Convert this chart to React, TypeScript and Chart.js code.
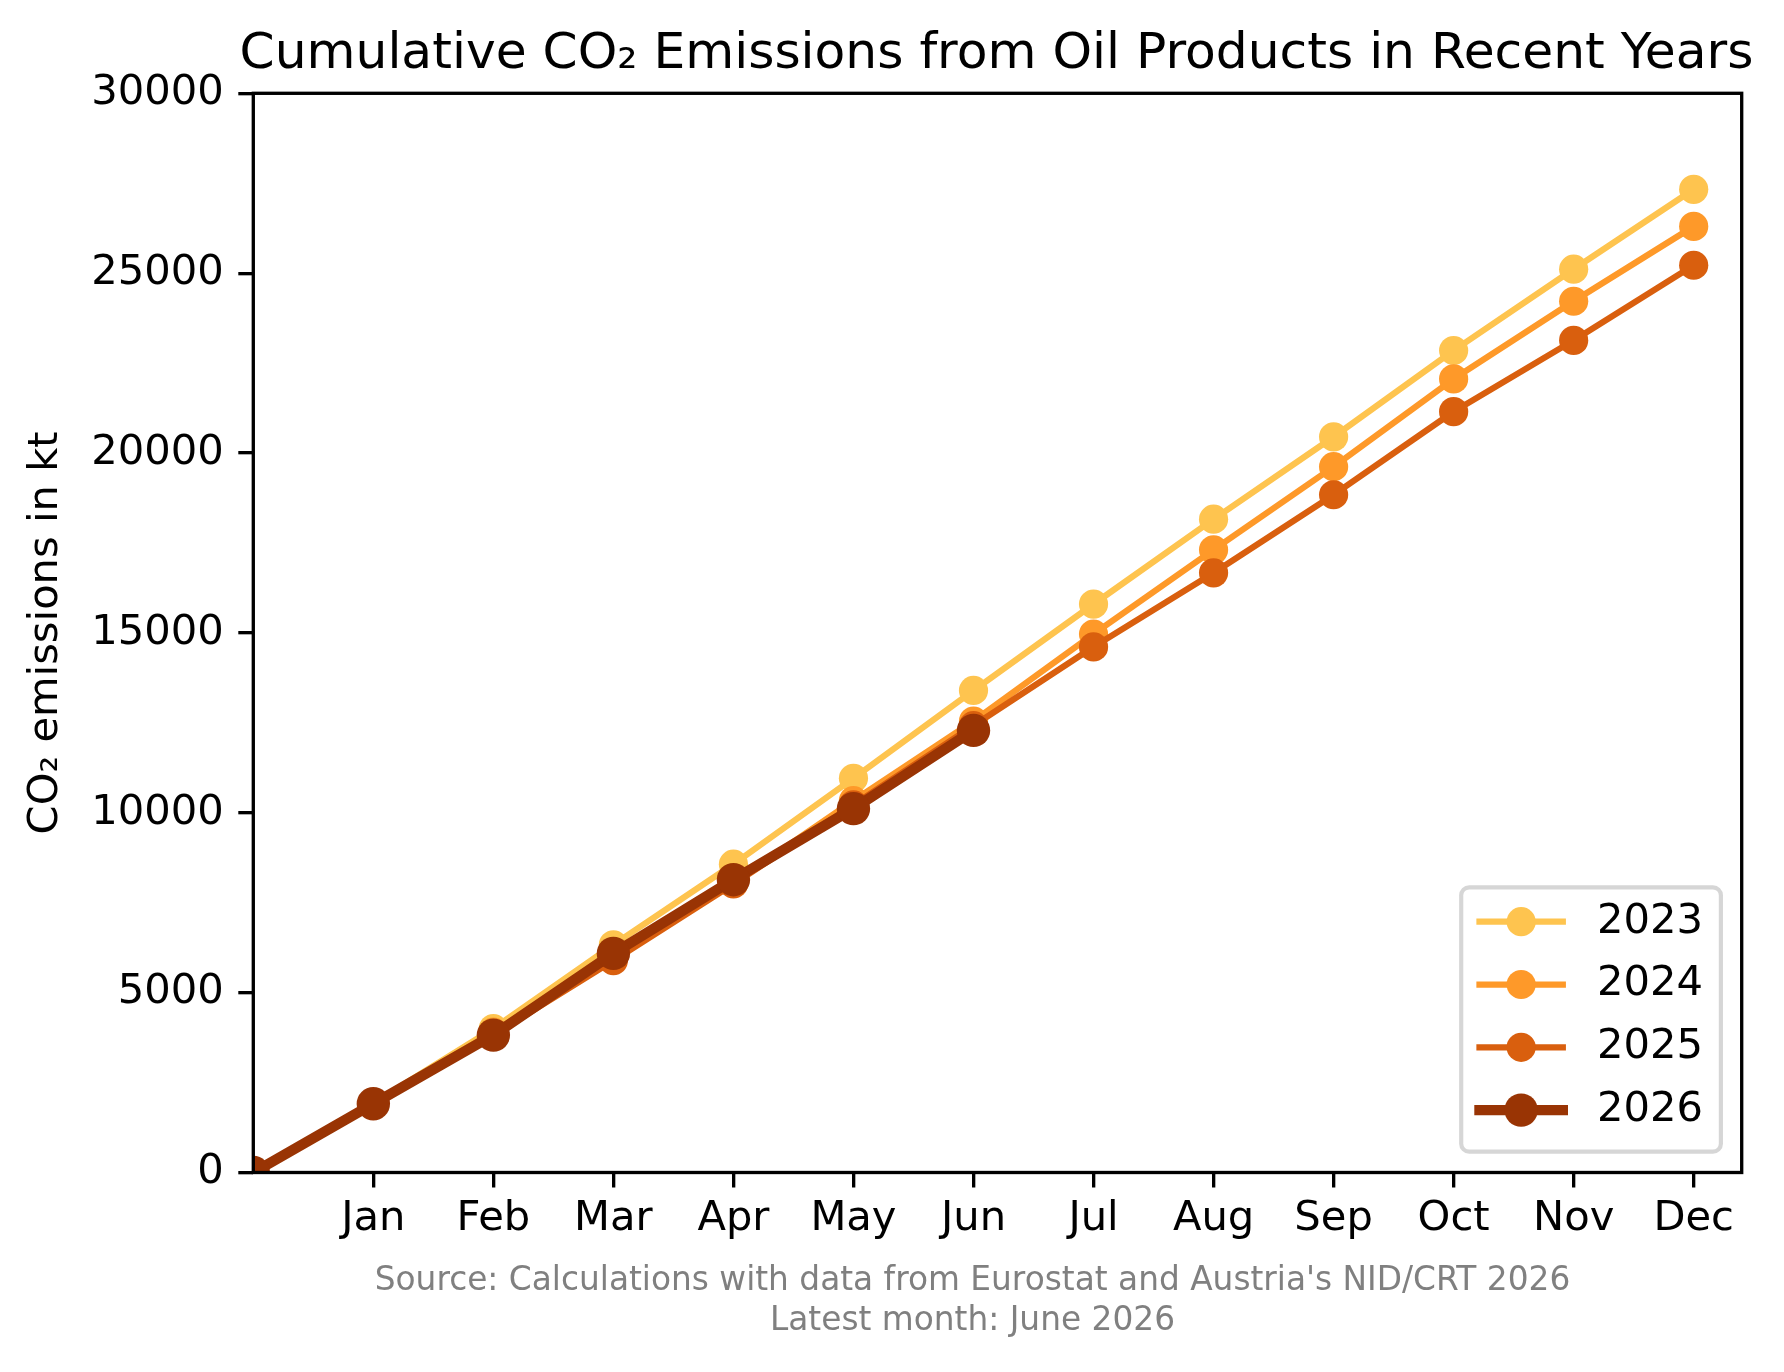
import React, { useEffect, useRef } from 'react';
import { Chart, registerables } from 'chart.js';

Chart.register(...registerables);

// ---- data ----
const MONTHS = ['Jan', 'Feb', 'Mar', 'Apr', 'May', 'Jun', 'Jul', 'Aug', 'Sep', 'Oct', 'Nov', 'Dec'];
// x position 0 = start of year, 1..12 = end of each month
const X_POSITIONS = [0, 1, 2, 3, 4, 5, 6, 7, 8, 9, 10, 11, 12];
const SERIES_NAMES = ['2023', '2024', '2025', '2026'];
const VALUES_2023 = [0, 1930, 4000, 6330, 8570, 10960, 13400, 15800, 18160, 20450, 22850, 25110, 27330];
const VALUES_2024 = [0, 1920, 3900, 5980, 8050, 10340, 12550, 14970, 17310, 19620, 22060, 24220, 26300];
const VALUES_2025 = [0, 1910, 3820, 5890, 8020, 10220, 12420, 14610, 16670, 18840, 21150, 23130, 25220];
const VALUES_2026 = [0, 1910, 3820, 6090, 8140, 10116, 12290];
const Y_TICKS = [0, 5000, 10000, 15000, 20000, 25000, 30000];

const TITLE = 'Cumulative CO\u2082 Emissions from Oil Products in Recent Years';
const Y_TITLE = 'CO\u2082 emissions in kt';
const FOOTNOTE = [
  "Source: Calculations with data from Eurostat and Austria's NID/CRT 2026",
  'Latest month: June 2026',
];

// ---- styles ----
const COLORS = ['#fec44f', '#fe9929', '#d95f0e', '#993404'];
const LINE_WIDTHS = [6.25, 6.25, 6.25, 10.4];
const POINT_RADII = [14.6, 14.6, 14.6, 16.7];
const FONT = '"DejaVu Sans", "Liberation Sans", sans-serif';
const W = 1784;
const H = 1372;
const SPINE = 3.33;

const ALL_VALUES = [VALUES_2023, VALUES_2024, VALUES_2025, VALUES_2026];

const decorPlugin = {
  id: 'decor',
  afterDatasetsDraw(chart: any) {
    const { ctx, chartArea: a } = chart;
    ctx.save();
    ctx.strokeStyle = '#000';
    ctx.lineWidth = SPINE;
    ctx.lineJoin = 'miter';
    ctx.strokeRect(a.left, a.top, a.right - a.left, a.bottom - a.top);
    ctx.restore();
  },
  afterDraw(chart: any) {
    const { ctx, chartArea: a } = chart;
    ctx.save();
    // title
    ctx.fillStyle = '#000';
    ctx.font = `50.3px ${FONT}`;
    ctx.textAlign = 'center';
    ctx.textBaseline = 'alphabetic';
    ctx.fillText(TITLE, (a.left + a.right) / 2 - 1, 68.3);

    // footnote
    ctx.fillStyle = '#808080';
    ctx.font = `32.8px ${FONT}`;
    ctx.fillText(FOOTNOTE[0], 972.5, 1290);
    ctx.fillText(FOOTNOTE[1], 972.5, 1330);

    // legend
    const bw = 259.7;
    const bh = 264.4;
    const bx = a.right - 20.8 - bw;
    const by = a.bottom - 20.8 - bh;
    const r = 8;
    ctx.beginPath();
    ctx.moveTo(bx + r, by);
    ctx.lineTo(bx + bw - r, by);
    ctx.arcTo(bx + bw, by, bx + bw, by + r, r);
    ctx.lineTo(bx + bw, by + bh - r);
    ctx.arcTo(bx + bw, by + bh, bx + bw - r, by + bh, r);
    ctx.lineTo(bx + r, by + bh);
    ctx.arcTo(bx, by + bh, bx, by + bh - r, r);
    ctx.lineTo(bx, by + r);
    ctx.arcTo(bx, by, bx + r, by, r);
    ctx.closePath();
    ctx.fillStyle = 'rgba(255,255,255,0.8)';
    ctx.fill();
    ctx.lineWidth = 4.17;
    ctx.strokeStyle = 'rgba(204,204,204,0.8)';
    ctx.stroke();

    chart.data.datasets.forEach((ds: any, i: number) => {
      const cy = by + 34.4 + i * 62.8;
      ctx.beginPath();
      ctx.strokeStyle = ds.borderColor;
      ctx.lineWidth = ds.borderWidth;
      ctx.lineCap = 'square';
      ctx.moveTo(bx + 18.3, cy);
      ctx.lineTo(bx + 101.6, cy);
      ctx.stroke();
      ctx.beginPath();
      ctx.fillStyle = ds.pointBackgroundColor;
      ctx.arc(bx + 59.95, cy, ds.pointRadius, 0, Math.PI * 2);
      ctx.fill();
      ctx.fillStyle = '#000';
      ctx.font = `41.67px ${FONT}`;
      ctx.textAlign = 'left';
      ctx.textBaseline = 'middle';
      ctx.fillText(ds.label, bx + 135.7, cy);
    });
    ctx.restore();
  },
};

export default function App() {
  const canvasRef = useRef<HTMLCanvasElement | null>(null);

  useEffect(() => {
    if (!canvasRef.current) return;
    const datasets = SERIES_NAMES.map((name, i) => ({
      label: name,
      data: ALL_VALUES[i].map((v, j) => ({ x: X_POSITIONS[j], y: v })),
      borderColor: COLORS[i],
      backgroundColor: COLORS[i],
      borderWidth: LINE_WIDTHS[i],
      pointRadius: POINT_RADII[i],
      pointHoverRadius: POINT_RADII[i],
      pointBorderWidth: 0,
      pointBackgroundColor: COLORS[i],
      borderJoinStyle: 'round' as const,
      borderCapStyle: 'square' as const,
      tension: 0,
      fill: false,
      order: SERIES_NAMES.length - 1 - i,
    }));

    const chart = new Chart(canvasRef.current, {
      type: 'line',
      data: { datasets },
      plugins: [decorPlugin],
      options: {
        animation: false,
        responsive: false,
        devicePixelRatio: 1,
        events: [],
        layout: { padding: { top: 93.3, right: 42.3, bottom: 0, left: 0 } },
        plugins: {
          legend: { display: false },
          tooltip: { enabled: false },
          title: { display: false },
        },
        scales: {
          x: {
            type: 'linear',
            min: 0,
            max: 12.4,
            afterFit: (scale: any) => {
              scale.height = H - 1172.5;
            },
            afterBuildTicks: (scale: any) => {
              scale.ticks = MONTHS.map((_, i) => ({ value: X_POSITIONS[i + 1] }));
            },
            ticks: {
              autoSkip: false,
              maxRotation: 0,
              minRotation: 0,
              padding: 6.4,
              color: '#000',
              font: { family: FONT, size: 41.67 },
              callback: (v: any) => MONTHS[Number(v) - 1] ?? '',
            },
            grid: {
              drawOnChartArea: false,
              drawTicks: true,
              tickLength: 15,
              lineWidth: SPINE,
              tickWidth: SPINE,
              tickColor: '#000',
              color: '#000',
            },
            border: { display: false },
          },
          y: {
            type: 'linear',
            min: 0,
            max: 30000,
            afterFit: (scale: any) => {
              scale.width = 253.3;
            },
            afterBuildTicks: (scale: any) => {
              scale.ticks = Y_TICKS.map((v) => ({ value: v }));
            },
            ticks: {
              padding: 14.5,
              color: '#000',
              font: { family: FONT, size: 41.67 },
              callback: (v: any) => String(v),
            },
            grid: {
              drawOnChartArea: false,
              drawTicks: true,
              tickLength: 15,
              lineWidth: SPINE,
              tickWidth: SPINE,
              tickColor: '#000',
              color: '#000',
            },
            border: { display: false },
            title: {
              display: true,
              text: Y_TITLE,
              color: '#000',
              font: { family: FONT, size: 41.67 },
              padding: { top: 21.5, bottom: 0 },
            },
          },
        },
      },
    });
    return () => chart.destroy();
  }, []);

  return (
    <div style={{ position: 'absolute', left: 0, top: 0, width: W, height: H, background: '#fff' }}>
      <canvas ref={canvasRef} width={W} height={H} style={{ width: W, height: H, display: 'block' }} />
    </div>
  );
}
